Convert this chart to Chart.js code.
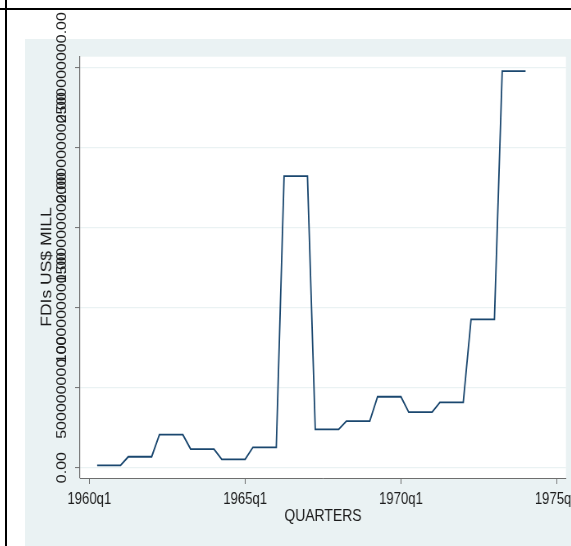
<!DOCTYPE html>
<html>
<head>
<meta charset="utf-8">
<script src="https://cdn.jsdelivr.net/npm/chart.js@4/dist/chart.umd.min.js"></script>
<style>
  html, body { margin: 0; padding: 0; background: #ffffff; }
  body { width: 571px; height: 546px; overflow: hidden; position: relative; }
  .rule-top { position: absolute; left: 0; top: 8px; width: 571px; height: 2px; background: #000; }
  .rule-left { position: absolute; left: 5px; top: 0; width: 2px; height: 546px; background: #000; }
  #wrap { position: absolute; left: 7px; top: 10px; transform: scaleX(0.82); transform-origin: 0 0; }
</style>
</head>
<body>
<div class="rule-top"></div>
<div class="rule-left"></div>
<div id="wrap"><canvas id="fdi" width="688" height="536"></canvas></div>
<script>
// Quarterly FDI inflows (US$), 1960q2 - 1974q1
const quarters = [
  '1960q2','1960q3','1960q4','1961q1','1961q2','1961q3','1961q4','1962q1',
  '1962q2','1962q3','1962q4','1963q1','1963q2','1963q3','1963q4','1964q1',
  '1964q2','1964q3','1964q4','1965q1','1965q2','1965q3','1965q4','1966q1',
  '1966q2','1966q3','1966q4','1967q1','1967q2','1967q3','1967q4','1968q1',
  '1968q2','1968q3','1968q4','1969q1','1969q2','1969q3','1969q4','1970q1',
  '1970q2','1970q3','1970q4','1971q1','1971q2','1971q3','1971q4','1972q1',
  '1972q2','1972q3','1972q4','1973q1','1973q2','1973q3','1973q4','1974q1'
];
const fdiUSD = [
  14000000, 14000000, 14000000, 14000000,
  68000000, 68000000, 68000000, 68000000,
  206000000, 206000000, 206000000, 206000000,
  116000000, 116000000, 116000000, 116000000,
  52000000, 52000000, 52000000, 52000000,
  127000000, 127000000, 127000000, 127000000,
  1822000000, 1822000000, 1822000000, 1822000000,
  239000000, 239000000, 239000000, 239000000,
  291000000, 291000000, 291000000, 291000000,
  443000000, 443000000, 443000000, 443000000,
  347000000, 347000000, 347000000, 347000000,
  408000000, 408000000, 408000000, 408000000,
  927000000, 927000000, 927000000, 927000000,
  2479000000, 2479000000, 2479000000, 2479000000
];
const xTickLabels = ['1960q1', '1965q1', '1970q1', '1975q1'];
const yTickValues = [0, 500000000, 1000000000, 1500000000, 2000000000, 2500000000];
const yTickLabels = ['0.00', '500000000.00', '1000000000.00', '1500000000.00', '2000000000.00', '2500000000.00'];
const xTitle = 'QUARTERS';
const yTitle = 'FDIs US$ MILL';

// quarter label -> quarters elapsed since 1960q1
function quarterIndex(label) {
  const [y, q] = label.split('q').map(Number);
  return (y - 1960) * 4 + (q - 1);
}
const points = quarters.map((q, i) => ({ x: quarterIndex(q), y: fdiUSD[i] }));
const xTickValues = xTickLabels.map(quarterIndex);

const FONT = "'Liberation Sans', Arial, Helvetica, sans-serif";
const TEXT = '#1b1b1b';
const AXIS = '#6e6e6e';
const BLUISH = '#eaf2f3';

const backdrop = {
  id: 'backdrop',
  beforeDraw(chart) {
    const { ctx, chartArea: a, width, height } = chart;
    ctx.save();
    ctx.fillStyle = BLUISH;
    ctx.fillRect(22, 29, width - 22, height - 29);
    ctx.fillStyle = '#ffffff';
    ctx.fillRect(a.left, a.top, a.right - a.left, a.bottom - a.top);
    ctx.restore();
  }
};

const axisText = {
  id: 'axisText',
  afterDraw(chart) {
    const { ctx, chartArea: a } = chart;
    const xs = chart.scales.x, ys = chart.scales.y;
    ctx.save();
    ctx.fillStyle = TEXT;
    ctx.textAlign = 'center';
    ctx.textBaseline = 'middle';
    ctx.font = `16px ${FONT}`;
    yTickValues.forEach((v, i) => {
      const py = ys.getPixelForValue(v);
      ctx.save();
      ctx.translate(67.7, py);
      ctx.rotate(-Math.PI / 2);
      ctx.fillText(yTickLabels[i], 0, 0);
      ctx.restore();
    });
    xTickValues.forEach((v, i) => {
      ctx.fillText(xTickLabels[i], xs.getPixelForValue(v), 489.5);
    });
    ctx.font = `17px ${FONT}`;
    ctx.fillText(xTitle, (a.left + a.right) / 2, 506);
    ctx.save();
    ctx.font = `17.5px ${FONT}`;
    ctx.translate(49.4, 257);
    ctx.rotate(-Math.PI / 2);
    ctx.fillText(yTitle, 0, 0);
    ctx.restore();
    ctx.restore();
  }
};

new Chart(document.getElementById('fdi'), {
  type: 'line',
  data: {
    datasets: [{
      data: points,
      borderColor: '#1a476f',
      borderWidth: 1.8,
      pointRadius: 0,
      tension: 0,
      fill: false
    }]
  },
  options: {
    responsive: false,
    devicePixelRatio: 1,
    animation: false,
    layout: { padding: { left: 0, top: 46.7, right: 6.3, bottom: 0 } },
    plugins: { legend: { display: false }, tooltip: { enabled: false } },
    scales: {
      x: {
        type: 'linear',
        min: -1.2,
        max: 61.19,
        afterBuildTicks: s => { s.ticks = xTickValues.map(v => ({ value: v })); },
        afterFit: s => { s.height = 68; },
        ticks: { display: false },
        grid: { drawOnChartArea: false, drawTicks: true, tickLength: 6, tickColor: AXIS, tickWidth: 1 },
        border: { display: true, color: AXIS, width: 1 }
      },
      y: {
        type: 'linear',
        min: -65000000,
        max: 2569000000,
        afterBuildTicks: s => { s.ticks = yTickValues.map(v => ({ value: v })); },
        afterFit: s => { s.width = 89; },
        ticks: { display: false },
        grid: { color: BLUISH, lineWidth: 1.2, drawTicks: true, tickLength: 6, tickColor: AXIS, tickWidth: 1 },
        border: { display: true, color: AXIS, width: 1.2 }
      }
    }
  },
  plugins: [backdrop, axisText]
});
</script>
</body>
</html>
